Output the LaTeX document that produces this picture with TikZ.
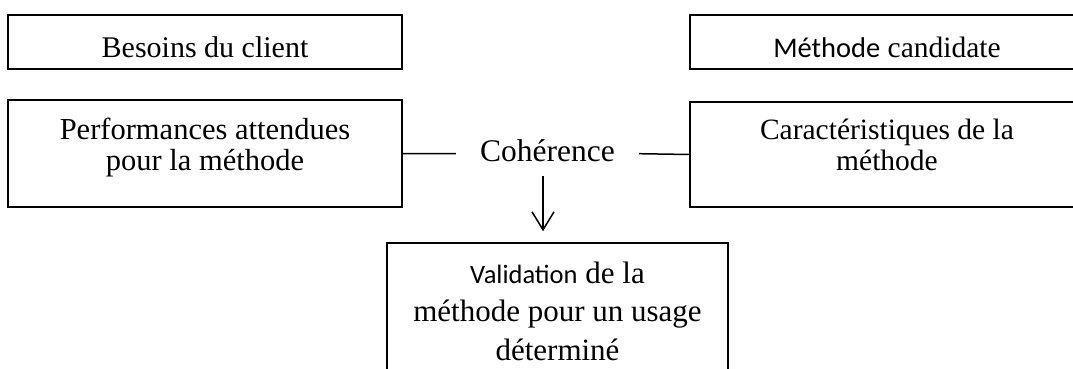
\documentclass[tikz,border=0pt]{standalone}
\usepackage{fontspec}
\setmainfont{Liberation Serif}
\newfontfamily\carlito{Carlito}
\usepackage{tikz}
\usetikzlibrary{arrows.meta}

% words that come out in the sans face
\newcommand{\sansword}[2]{{\carlito\fontsize{#1}{36}\selectfont #2}}

\tikzset{
  box/.style={draw, line width=1.5pt, rectangle, align=center, inner ysep=0pt, anchor=base},
  onebox/.style={box, inner xsep=0pt, text height=42pt, text depth=12pt, minimum width=394pt},
  twobox/.style={box, text height=69pt, text depth=37pt, minimum width=394pt},
}

\begin{document}
\begin{tikzpicture}[x=1pt, y=1pt]
  \useasboundingbox (0,0) rectangle (1073,-369);

  % top row
  \node (besoins) at (205,-57) [onebox, font=\fontsize{30}{31}\selectfont] {Besoins du client};
  \node (candidate) at (887,-57) [onebox, font=\fontsize{29.5}{31}\selectfont] {\sansword{28.5}{Méthode} candidate};

  % middle row
  \node (perf) at (205,-170) [twobox, text height=70pt, font=\fontsize{30.5}{31}\selectfont] {Performances attendues\\pour la méthode};
  \node (carac) at (887,-170) [twobox, text height=68pt, font=\fontsize{29.5}{31}\selectfont] {Caractéristiques de la\\méthode};
  \node (coh) at (547.5,-161.7) [anchor=base, inner xsep=24pt, inner ysep=14pt, text height=16pt, text depth=0pt, font=\fontsize{31.5}{36}\selectfont] {Cohérence};

  % result
  \node (valid) at (557.5,-360) [box, minimum width=341pt, text height=117pt, text depth=30pt, font=\fontsize{31}{38.5}\selectfont] {\sansword{26.5}{Validation} de la\\méthode pour un usage\\déterminé};

  \draw[line width=1.5pt] (perf.east) -- (coh.west);
  \draw[line width=1.5pt] (coh.east) -- (carac.west);
  \draw[line width=1.5pt, -{Straight Barb[length=18pt, width=22pt]}, shorten >=11pt]
    ([xshift=-4.5pt]coh.south) -- ([xshift=-4.5pt]coh.south |- valid.north);
\end{tikzpicture}
\end{document}
